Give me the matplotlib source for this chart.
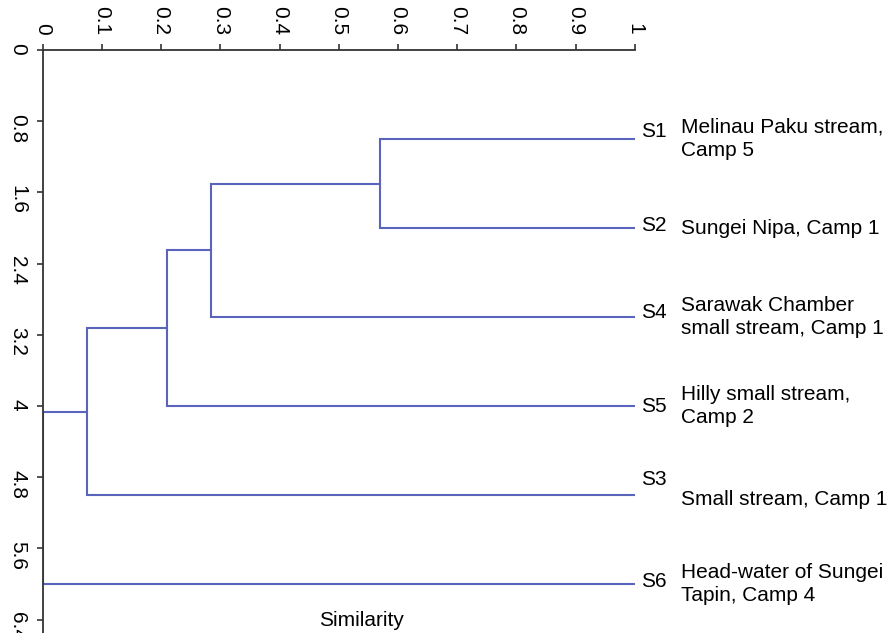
import numpy as np
import matplotlib.pyplot as plt

plt.rcParams['font.family'] = ['Liberation Sans', 'DejaVu Sans']

# leaves in dendrogram order, top to bottom
sites = ['S1', 'S2', 'S4', 'S5', 'S3', 'S6']
descricao = ['Melinau Paku stream,\nCamp 5',
             'Sungei Nipa, Camp 1',
             'Sarawak Chamber\nsmall stream, Camp 1',
             'Hilly small stream,\nCamp 2',
             'Small stream, Camp 1',
             'Head-water of Sungei\nTapin, Camp 4']
# merges (node a, node b, similarity); new nodes numbered after the leaves
fusoes = [(0, 1, 0.57), (6, 2, 0.285), (7, 3, 0.21), (8, 4, 0.075), (9, 5, 0.0)]

xticks = np.round(np.arange(0, 1.01, 0.1), 1)
xlabels = ['0', '0.1', '0.2', '0.3', '0.4', '0.5', '0.6', '0.7', '0.8', '0.9', '1']
yticks = [0, 0.8, 1.6, 2.4, 3.2, 4, 4.8, 5.6, 6.4]
ylabels = ['0', '0.8', '1.6', '2.4', '3.2', '4', '4.8', '5.6', '6.4']

cor = '#5a64bc'

fig = plt.figure(figsize=(8.93, 6.33), dpi=100)
ax = fig.add_axes([0.0478, 0.0, 0.663, 0.921])

# position of each node: (similarity, vertical position)
nos = [(1.0, i + 1) for i in range(len(sites))]
for a, b, s in fusoes:
    xa, ya = nos[a]
    xb, yb = nos[b]
    ax.plot([xa, s, s, xb], [ya, ya, yb, yb], color=cor, lw=1.5,
            solid_joinstyle='miter', zorder=2)
    nos.append((s, (ya + yb) / 2))

# labels at the right of the leaves
desl_s = [-0.08, -0.03, -0.05, 0.0, -0.17, -0.03]
desl_d = [0.0, 0.0, 0.0, 0.0, 0.05, 0.0]
for i, (nome, txt) in enumerate(zip(sites, descricao)):
    ax.text(1.011, i + 1 + desl_s[i], nome, fontsize=15, va='center',
            ha='left', clip_on=False)
    ax.text(1.078, i + 1 + desl_d[i], txt, fontsize=15, va='center',
            ha='left', linespacing=1.3, clip_on=False)

ax.set_xlim(0, 1)
ax.set_ylim(6.55, 0)
ax.xaxis.tick_top()
ax.set_xticks(xticks)
ax.set_xticklabels(xlabels, rotation=-90)
ax.set_yticks(yticks)
ax.set_yticklabels(ylabels, rotation=-90)
ax.tick_params(axis='both', labelsize=15, length=4, width=1.2, color='#333333', pad=7)
ax.spines['right'].set_visible(False)
ax.spines['bottom'].set_visible(False)
for lado in ['top', 'left']:
    ax.spines[lado].set_color('#333333')
    ax.spines[lado].set_linewidth(1.3)
    ax.spines[lado].set_zorder(3)

fig.text(361 / 893, 1 - 620 / 633, 'Similarity', fontsize=15, ha='center', va='center')

fig.savefig('out.png', dpi=100)
